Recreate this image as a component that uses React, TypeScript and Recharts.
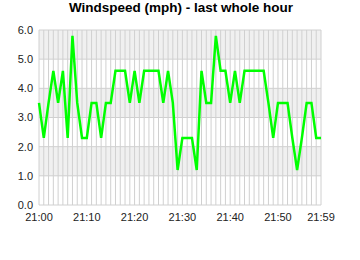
import { CartesianGrid, Line, LineChart, XAxis, YAxis } from "recharts"

// windspeed per minute, 21:00 .. 21:59
const SPEED = [
  3.5, 2.3, 3.5, 4.6, 3.5, 4.6, 2.3, 5.8, 3.5, 2.3,
  2.3, 3.5, 3.5, 2.3, 3.5, 3.5, 4.6, 4.6, 4.6, 3.5,
  4.6, 3.5, 4.6, 4.6, 4.6, 4.6, 3.5, 4.6, 3.5, 1.2,
  2.3, 2.3, 2.3, 1.2, 4.6, 3.5, 3.5, 5.8, 4.6, 4.6,
  3.5, 4.6, 3.5, 4.6, 4.6, 4.6, 4.6, 4.6, 3.5, 2.3,
  3.5, 3.5, 3.5, 2.3, 1.2, 2.3, 3.5, 3.5, 2.3, 2.3,
]
const LABEL_MINUTES = [0, 10, 20, 30, 40, 50, 59]
const LABELS = ["21:00", "21:10", "21:20", "21:30", "21:40", "21:50", "21:59"]
const Y_TICKS = [0, 1, 2, 3, 4, 5, 6]

const rows = SPEED.map((v, i) => ({ m: i, v }))
const minuteTicks = SPEED.map((_, i) => i)

const FONT = "'Liberation Sans', Arial, sans-serif"
const TICK_STYLE = { fontSize: 11, fill: "#222", fontFamily: FONT }

export default function App() {
  return (
    <div style={{ position: "fixed", left: 0, top: 0, width: 360, height: 260, background: "#fff" }}>
      <div
        style={{
          position: "absolute",
          left: 0,
          top: 0,
          width: 362,
          textAlign: "center",
          fontFamily: FONT,
          fontWeight: "bold",
          fontSize: 13.5,
          lineHeight: "16px",
          color: "#000",
        }}
      >
        Windspeed (mph) - last whole hour
      </div>
      <LineChart width={360} height={260} data={rows} margin={{ top: 30, right: 39, bottom: 25, left: 0 }}>
        <CartesianGrid
          stroke="#d0d0d0"
          horizontalFill={["#f0f0f0", "#ffffff"]}
          fillOpacity={1}
        />
        <XAxis
          dataKey="m"
          type="number"
          domain={[0, 59]}
          ticks={minuteTicks}
          interval={0}
          axisLine={false}
          tickLine={false}
          tickSize={5}
          tickMargin={3}
          height={30}
          tick={TICK_STYLE}
          tickFormatter={(m: number) => {
            const k = LABEL_MINUTES.indexOf(m)
            return k >= 0 ? LABELS[k] : ""
          }}
        />
        <YAxis
          type="number"
          domain={[0, 6]}
          ticks={Y_TICKS}
          width={39}
          axisLine={false}
          tickLine={false}
          tickSize={4}
          tickMargin={2}
          tick={TICK_STYLE}
          tickFormatter={(v: number) => v.toFixed(1)}
        />
        <Line
          type="linear"
          dataKey="v"
          stroke="#00ff00"
          strokeWidth={2.5}
          dot={false}
          isAnimationActive={false}
        />
      </LineChart>
    </div>
  )
}
